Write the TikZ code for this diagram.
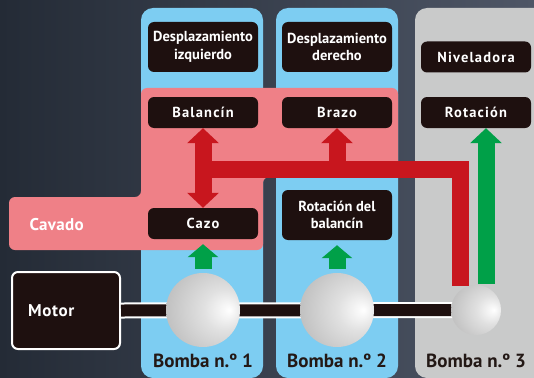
\documentclass[tikz,border=0pt]{standalone}
\usepackage{fontspec}
\setmainfont{PT Sans}
\usetikzlibrary{arrows.meta,calc}
\definecolor{boxdark}{RGB}{30,16,15}
\definecolor{pinkzone}{RGB}{239,128,135}
\definecolor{bluecol}{RGB}{125,205,242}
\definecolor{greycol}{RGB}{201,202,202}
\definecolor{arrowred}{RGB}{200,22,30}
\definecolor{arrowgreen}{RGB}{0,160,72}
\definecolor{bgdark}{RGB}{36,43,54}
\definecolor{bglight}{RGB}{78,86,102}
\definecolor{labeldark}{RGB}{35,24,21}
\pgfdeclareradialshading{pumpball}{\pgfpoint{18bp}{0bp}}{color(0bp)=(white); color(14bp)=(black!12); color(40bp)=(black!28); color(68bp)=(black!48)}
\tikzset{
    % Function box styles
    funcbox/.style={
        rectangle, fill=boxdark, text=white,
        font=\bfseries\fontsize{14.5}{17.5}\selectfont,
        minimum width=110pt, minimum height=31pt,
        rounded corners=6pt, align=center, inner sep=2pt
    },
    twoline/.style={funcbox, minimum height=50pt},
    spaced/.style={font=\bfseries\fontsize{14.5}{17.5}\selectfont\addfontfeature{LetterSpace=8}},
    motorbox/.style={
        rectangle, fill=boxdark, draw=white, line width=2pt, text=white,
        font=\bfseries\fontsize{17}{19}\selectfont\addfontfeature{LetterSpace=4},
        minimum height=77pt, text width=76pt, inner xsep=16pt,
        align=left, rounded corners=6pt
    },
    pump/.style={circle, shading=pumpball, inner sep=0pt},
    pumplabel/.style={text=labeldark, font=\bfseries\fontsize{19}{21}\selectfont},
    % Arrow styles
    redbar/.style={draw=arrowred, line width=17pt},
    greenbar/.style={draw=arrowgreen, line width=17pt},
    bigtip/.tip={Triangle[width=31pt,length=15pt]},
    smalltip/.tip={Triangle[width=30pt,length=13pt]}
}
\begin{document}
\begin{tikzpicture}[x=1pt,y=-1pt]
\useasboundingbox (0,0) rectangle (534,377);

% Background
\shade[left color=bgdark, right color=bglight] (0,0) rectangle (534,377);

% Pump columns
\fill[bluecol, rounded corners=12pt] (141,8) rectangle (263,378);
\fill[bluecol, rounded corners=12pt] (276,8) rectangle (398,378);
\fill[greycol, rounded corners=12pt] (415,8) rectangle (560,378);

% Digging zone
\fill[pinkzone, rounded corners=6pt] (141,88) -- (398,88) -- (398,177) -- (263,177)
    -- (263,250) -- (9,250) -- (9,197) -- (141,197) -- cycle;
\node[anchor=west, text=white, font=\bfseries\fontsize{17}{19}\selectfont\addfontfeature{LetterSpace=2}] (cavado) at (26,225) {Cavado};

% Function boxes
\node[twoline] (despizq) at (203,47) {Desplazamiento\\izquierdo};
\node[twoline] (despder) at (337,47) {Desplazamiento\\derecho};
\node[funcbox, spaced] (niveladora) at (476,57) {Niveladora};
\node[funcbox, spaced] (balancin) at (203,112.5) {Balanc\'{\i}n};
\node[funcbox, spaced] (brazo) at (337,112.5) {Brazo};
\node[funcbox, spaced] (rotacion) at (476,112.5) {Rotaci\'on};
\node[funcbox, spaced] (cazo) at (203,223.5) {Cazo};
\node[twoline] (rotbal) at (337,215) {Rotaci\'on del\\balanc\'{\i}n};

% Motor and shaft
\node[motorbox] (motor) at (66,310.5) {Motor};
\draw[white, line width=16pt] (motor.east) -- (476,310);
\draw[boxdark, line width=12pt] (motor.east) -- (476,310);

% Pumps
\node[pump, minimum size=74pt] (pumpA) at (203,310) {};
\node[pump, minimum size=74pt] (pumpB) at (337,310) {};
\node[pump, minimum size=50pt] (pumpC) at (476,310) {};
\node[pumplabel] (bombaA) at (203,361) {Bomba n.º 1};
\node[pumplabel] (bombaB) at (337,361) {Bomba n.º 2};
\node[pumplabel] (bombaC) at (476,361) {Bomba n.º 3};

% Red oil line
\coordinate (split) at (203,169);
\coordinate (redfoot) at (460,286);
\draw[redbar] (split) -| (redfoot);
\draw[redbar, bigtip-bigtip] (balancin.south) -- (cazo.north);
\draw[redbar, -bigtip] (brazo.south |- split) -- (brazo.south);

% Green oil lines
\coordinate (greenfoot) at (486,284);
\draw[greenbar, -bigtip] (greenfoot) -- (greenfoot |- rotacion.south);
\draw[greenbar, -smalltip, shorten <=4pt, shorten >=5pt] (pumpA.north) -- (cazo.south);
\draw[greenbar, -smalltip, shorten <=4pt, shorten >=5pt] (pumpB.north) -- (rotbal.south);

\end{tikzpicture}
\end{document}
